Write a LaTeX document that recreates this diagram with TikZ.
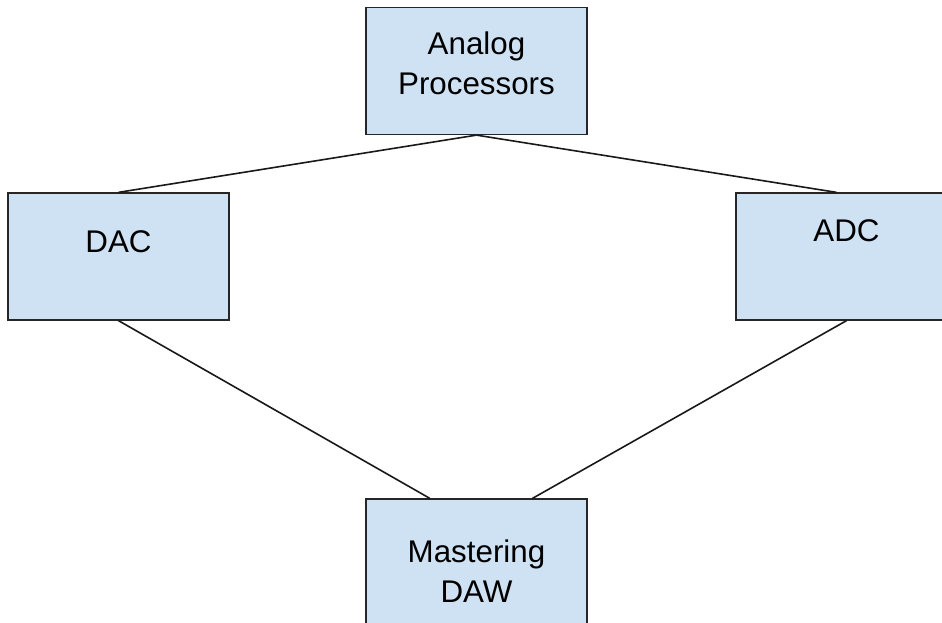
\documentclass[tikz,border=0pt]{standalone}
\usepackage{fontspec}
\setmainfont{Liberation Sans}
\usepackage{tikz}
\definecolor{boxblue}{RGB}{207,226,243}
\tikzstyle{unit}=[rectangle, draw=black!85, line width=1.2pt, fill=boxblue, minimum width=166pt, minimum height=95pt, inner sep=0pt]
\tikzstyle{lbl}=[anchor=base, align=center, inner sep=0pt, font=\fontsize{23.5}{30}\selectfont]
\tikzstyle{link}=[-, line width=1.2pt, draw=black!90]

\begin{document}
\begin{tikzpicture}[x=0.75pt,y=-0.75pt]
				\useasboundingbox (0,0) rectangle (942,623);
				
				%The boxes
				\draw (476.5,71) node[unit] (ap) {};
				\draw (118.5,256.5) node[unit] (dac) {};
				\draw (846.5,256.5) node[unit] (adc) {};
				\draw (476.5,562.5) node[unit] (daw) {};
				
				%The labels
				\draw (476.5,95) node[lbl] (aptext) {Analog\\Processors};
				\draw (118.5,253) node[lbl] (dactext) {DAC};
				\draw (846.5,242) node[lbl] (adctext) {ADC};
				\draw (476.5,602) node[lbl] (dawtext) {Mastering\\DAW};
				
				%The connections
				\draw[link] (ap.south) -- (dac.north);
				\draw[link] (ap.south) -- ([xshift=-7.5pt]adc.north);
				\draw[link] (dac.south) -- ([xshift=-35pt]daw.north);
				\draw[link] (adc.south) -- ([xshift=42pt]daw.north);
			\end{tikzpicture}
\end{document}
